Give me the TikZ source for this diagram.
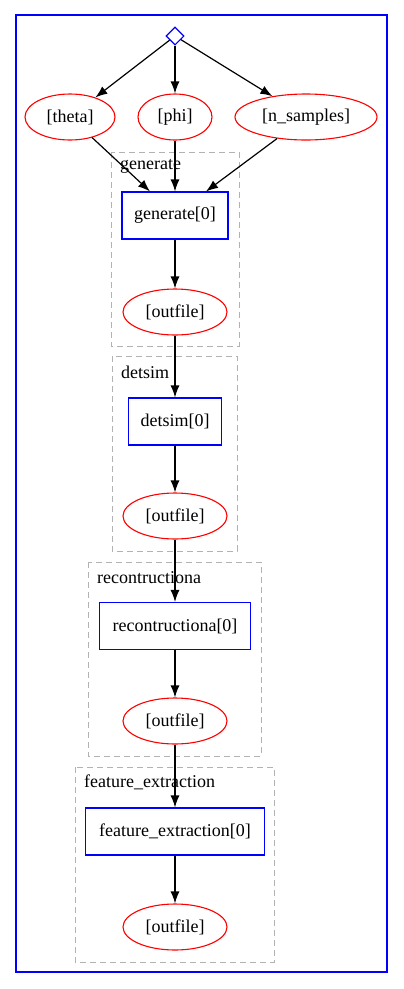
\documentclass[tikz,border=0pt]{standalone}
\usepackage{fontspec}
\setmainfont{Liberation Serif}
\usetikzlibrary{shapes.geometric,arrows.meta}
\begin{document}
\begin{tikzpicture}[x=1pt,y=-1pt,
  every node/.style={font=\fontsize{18}{21}\selectfont, inner sep=0pt},
  dataell/.style={draw=red, line width=1.1pt, ellipse, minimum height=46pt},
  taskbox/.style={draw=blue, line width=1.1pt, rectangle, minimum height=47pt},
  clusterbox/.style={draw=black!30, dash pattern=on 6pt off 4pt, line width=1pt},
  clabel/.style={anchor=west},
  edge/.style={-{Latex[length=12pt,width=9pt]}, line width=1.2pt}]
\useasboundingbox (0,0) rectangle (404,989);
\draw[blue, line width=1.3pt] (16,15) rectangle (387,972);
% clusters
\draw[clusterbox] (111,152) rectangle (239,346);
\draw[clusterbox] (112,356) rectangle (237,551);
\draw[clusterbox] (88,562) rectangle (261,756);
\draw[clusterbox] (75,767) rectangle (274,962);
\node[clabel] (lg) at (120,166) {generate};
\node[clabel] (ld) at (121,372) {detsim};
\node[clabel] (lr) at (97,578) {recontructiona};
\node[clabel] (lf) at (84,782) {feature\_extraction};
% nodes
\node[draw=blue, line width=1.1pt, diamond, minimum width=18pt, minimum height=18pt] (src) at (175,36) {};
\node[dataell, minimum width=90pt] (theta) at (70,117) {[theta]};
\node[dataell, minimum width=74pt] (phi) at (175,117) {[phi]};
\node[dataell, minimum width=142pt] (ns) at (306,117) {[n\_samples]};
\node[taskbox, minimum width=106pt] (gen) at (175,215.5) {generate[0]};
\node[dataell, minimum width=104pt] (o1) at (175,312) {[outfile]};
\node[taskbox, minimum width=93pt] (det) at (175,421.5) {detsim[0]};
\node[dataell, minimum width=104pt] (o2) at (175,516) {[outfile]};
\node[taskbox, minimum width=151pt] (rec) at (175,626) {recontructiona[0]};
\node[dataell, minimum width=104pt] (o3) at (175,721) {[outfile]};
\node[taskbox, minimum width=179pt] (fe) at (175,831.5) {feature\_extraction[0]};
\node[dataell, minimum width=104pt] (o4) at (175,927) {[outfile]};
% edges
\draw[edge] (src) -- (theta);
\draw[edge] (src) -- (phi);
\draw[edge] (src) -- (ns);
\draw[edge] (theta) -- (gen.north -| 150,0);
\draw[edge] (phi) -- (gen);
\draw[edge] (ns) -- (gen.north -| 206,0);
\draw[edge] (gen) -- (o1);
\draw[edge] (o1) -- (det);
\draw[edge] (det) -- (o2);
\draw[edge] (o2) -- (rec);
\draw[edge] (rec) -- (o3);
\draw[edge] (o3) -- (fe);
\draw[edge] (fe) -- (o4);
\end{tikzpicture}
\end{document}
